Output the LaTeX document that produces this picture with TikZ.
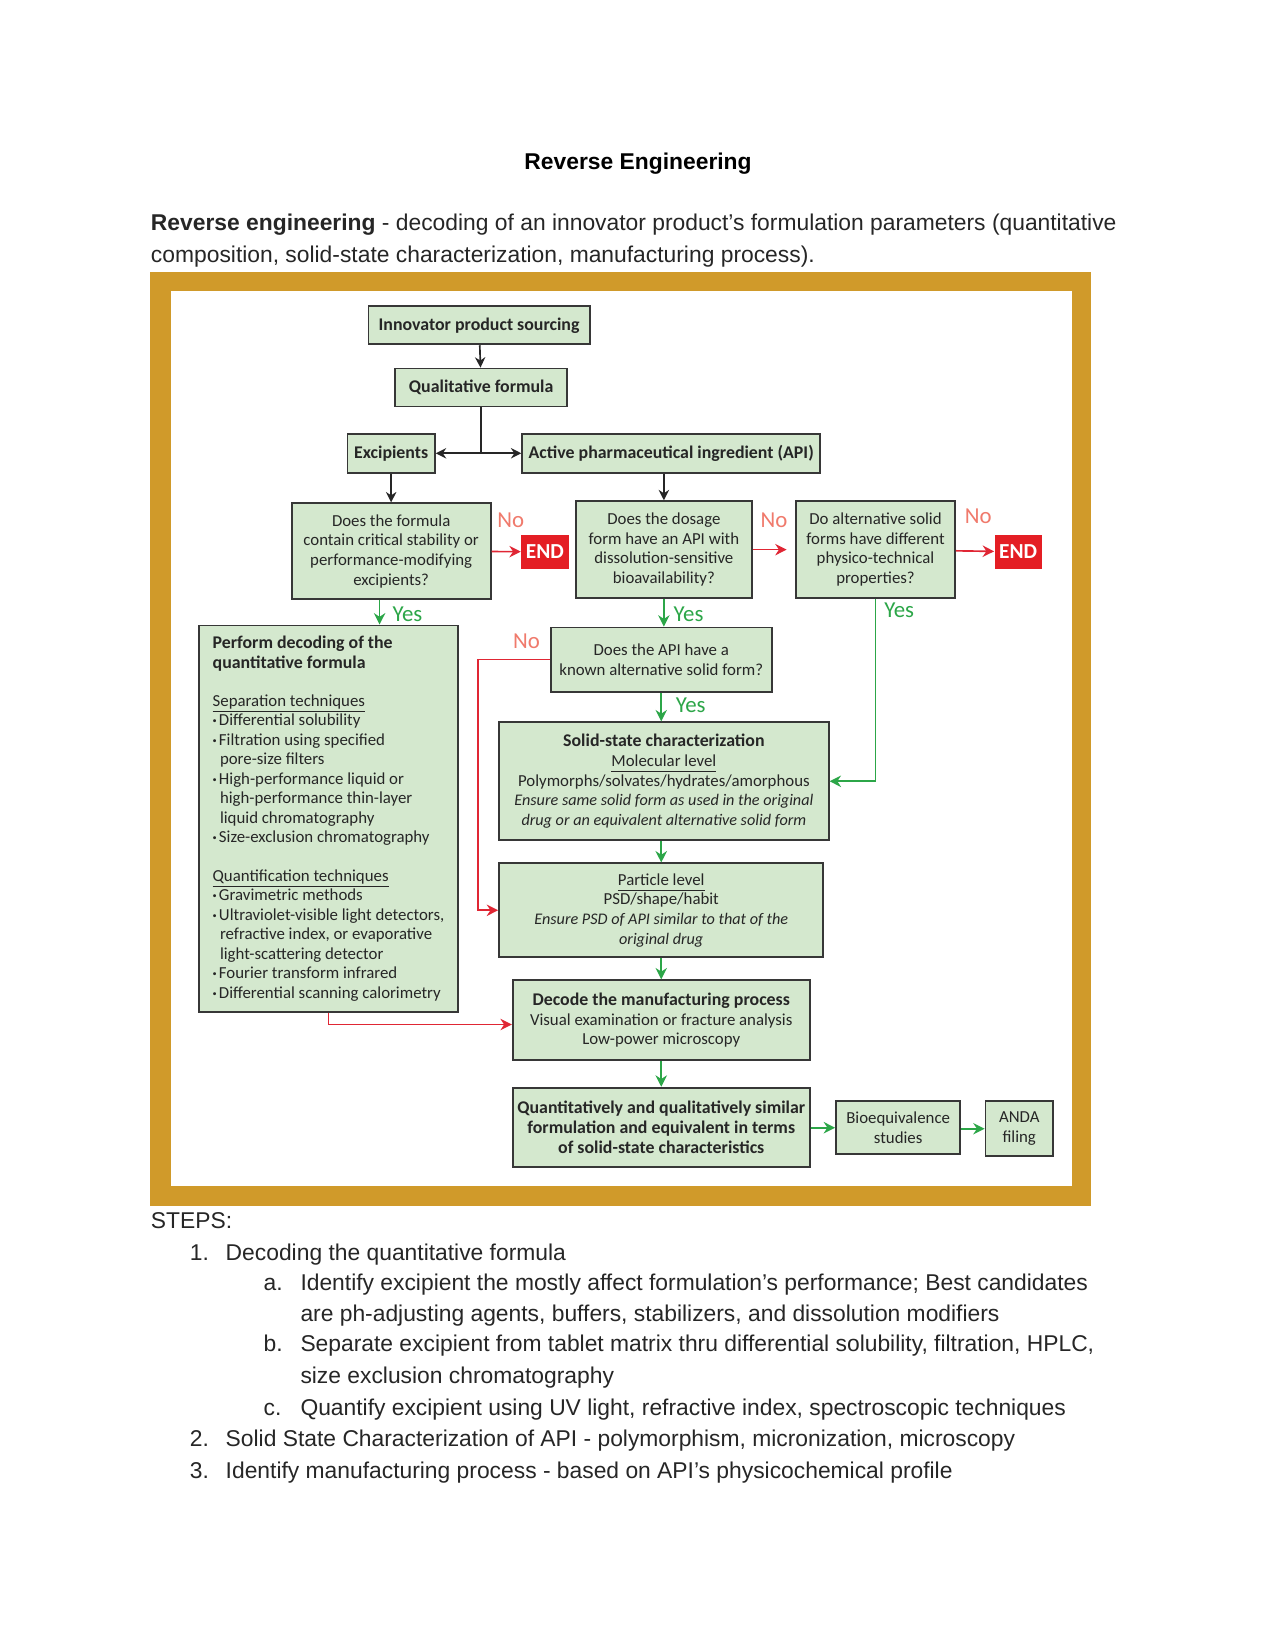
\documentclass[tikz,border=0pt]{standalone}
\usepackage{fontspec}
\usepackage{graphicx}
\setmainfont{Liberation Sans}
\newfontfamily\chartfont{Carlito}
\usetikzlibrary{arrows.meta}

\newlength\pixel
\setlength\pixel{0.5072pt}

\definecolor{framegold}{RGB}{208,154,42}
\definecolor{boxgreen}{RGB}{212,232,206}
\definecolor{boxline}{RGB}{55,55,55}
\definecolor{yesgreen}{RGB}{44,166,72}
\definecolor{nored}{RGB}{224,38,52}
\definecolor{nolabel}{RGB}{240,122,108}
\definecolor{endred}{RGB}{228,30,36}

\newcommand\dotitem{\makebox[6\pixel][l]{\raisebox{0.25ex}{\fontsize{4}{4}\selectfont\textbullet}}}
\newcommand\dotcont{\hspace*{7\pixel}}
\newcommand\headline[1]{{\fontsize{8.6}{9.5}\selectfont\bfseries #1}}
\newcommand\noteline[1]{{\fontsize{7.8}{9.5}\selectfont\itshape #1}}
\newcommand\subhead[1]{\underline{\raisebox{0pt}[\height][1.1pt]{#1}}}

\begin{document}
\begin{tikzpicture}[
    x=\pixel, y=-\pixel,
    pagetext/.style={anchor=base west, inner sep=0pt, text=black!85,
        font=\fontsize{11}{13}\selectfont},
    box/.style={draw=boxline, line width=0.9pt, fill=boxgreen, text=black!85,
        inner sep=0pt, align=center,
        font=\chartfont\fontsize{8.1}{9.5}\selectfont},
    endbox/.style={fill=endred, text=white, inner sep=0pt,
        minimum width=45\pixel, minimum height=32\pixel,
        font=\chartfont\bfseries\fontsize{10.3}{11}\selectfont},
    yes/.style={text=yesgreen, inner sep=0pt, font=\chartfont\fontsize{11}{11}\selectfont},
    no/.style={text=nolabel, inner sep=0pt, font=\chartfont\fontsize{11}{11}\selectfont},
    blackarrow/.style={draw=black!85, line width=0.8pt, -{Stealth[length=5pt, width=5pt]}},
    greenarrow/.style={draw=yesgreen, line width=0.8pt, -{Stealth[length=5.5pt, width=5.5pt]}},
    redarrow/.style={draw=nored, line width=0.8pt, -{Stealth[length=5.5pt, width=5.5pt]}},
    ]
    \useasboundingbox[fill=white] (0,0) rectangle (1211,1568);

    % page text above
    \node[font=\bfseries\fontsize{11}{13}\selectfont, inner sep=0pt] (title) at (606,155) {Reverse Engineering};
    \node[pagetext] (intro1) at (143,219) {\textbf{Reverse engineering} - decoding of an innovator product’s formulation parameters (quantitative};
    \node[pagetext] (intro2) at (143,249) {composition, solid-state characterization, manufacturing process).};

    % gold frame
    \fill[framegold] (142,258) rectangle (1036,1145);
    \fill[white] (162,276) rectangle (1018,1126);

    % boxes
    \node[box, minimum width=210\pixel, minimum height=36\pixel] (innov) at (455,309) {\headline{Innovator product sourcing}};
    \node[box, minimum width=163\pixel, minimum height=36\pixel] (qual) at (457,368) {\headline{Qualitative formula}};
    \node[box, minimum width=83\pixel, minimum height=37\pixel] (excip) at (371.5,430.5) {\headline{Excipients}};
    \node[box, minimum width=283\pixel, minimum height=37\pixel] (api) at (637.5,430.5) {\headline{Active pharmaceutical ingredient (API)}};

    \node[box, minimum width=189\pixel, minimum height=91\pixel] (q1) at (371.5,523.5)
        {Does the formula\\contain critical stability or\\performance-modifying\\excipients?};
    \node[endbox] (end1) at (517.5,524) {END};
    \node[box, minimum width=167\pixel, minimum height=92\pixel] (q2) at (630.5,522)
        {Does the dosage\\form have an API with\\dissolution-sensitive\\bioavailability?};
    \node[box, minimum width=151\pixel, minimum height=92\pixel] (q3) at (831.5,522)
        {Do alternative solid\\forms have different\\physico-technical\\properties?};
    \node[endbox] (end2) at (967,524) {END};

    \node[box, minimum width=246\pixel, minimum height=367\pixel, align=left,
        font=\chartfont\fontsize{8.1}{9.4}\selectfont] (perform) at (312,777.5)
        {\headline{Perform decoding of the}\\
         \headline{quantitative formula}\\[9pt]
         \subhead{Separation techniques}\\
         \dotitem Differential solubility\\
         \dotitem Filtration using specified\\
         \dotcont pore-size filters\\
         \dotitem High-performance liquid or\\
         \dotcont high-performance thin-layer\\
         \dotcont liquid chromatography\\
         \dotitem Size-exclusion chromatography\\[9pt]
         \subhead{Quantification techniques}\\
         \dotitem Gravimetric methods\\
         \dotitem Ultraviolet-visible light detectors,\\
         \dotcont refractive index, or evaporative\\
         \dotcont light-scattering detector\\
         \dotitem Fourier transform infrared\\
         \dotitem Differential scanning calorimetry};

    \node[box, minimum width=210\pixel, minimum height=61\pixel] (q4) at (628,626.5)
        {Does the API have a\\known alternative solid form?};
    \node[box, minimum width=313\pixel, minimum height=112\pixel] (solid) at (630.5,742)
        {\headline{Solid-state characterization}\\
         \subhead{Molecular level}\\
         Polymorphs/solvates/hydrates/amorphous\\
         \noteline{Ensure same solid form as used in the original}\\
         \noteline{drug or an equivalent alternative solid form}};
    \node[box, minimum width=308\pixel, minimum height=89\pixel] (particle) at (628,864.5)
        {\subhead{Particle level}\\
         PSD/shape/habit\\
         \noteline{Ensure PSD of API similar to that of the}\\
         \noteline{original drug}};
    \node[box, minimum width=282\pixel, minimum height=76\pixel] (decode) at (628,969)
        {\headline{Decode the manufacturing process}\\
         Visual examination or fracture analysis\\
         Low-power microscopy};
    \node[box, minimum width=282\pixel, minimum height=75\pixel] (final) at (628,1070.5)
        {\headline{Quantitatively and qualitatively similar}\\
         \headline{formulation and equivalent in terms}\\
         \headline{of solid-state characteristics}};
    \node[box, minimum width=118\pixel, minimum height=50\pixel] (bioeq) at (853,1071)
        {Bioequivalence\\studies};
    \node[box, minimum width=64\pixel, minimum height=52\pixel] (anda) at (968,1072)
        {ANDA\\filing};

    % yes / no labels
    \node[no] (no1) at (485,494) {No};
    \node[no] (no2) at (735,494) {No};
    \node[no] (no3) at (929,490) {No};
    \node[no] (no4) at (500,609) {No};
    \node[yes] (yes1) at (387,583) {Yes};
    \node[yes] (yes2) at (654,583) {Yes};
    \node[yes] (yes3) at (854,580) {Yes};
    \node[yes] (yes4) at (656,670) {Yes};

    % connectors
    \coordinate (split) at (qual.south |- excip.east);
    \draw[black!85, line width=0.8pt] (qual.south) -- (split);
    \draw[blackarrow] (innov) -- (qual);
    \draw[blackarrow] (split) -- (excip.east);
    \draw[blackarrow] (split) -- (api.west);
    \draw[blackarrow] (excip) -- (q1);
    \draw[blackarrow] (q2.north |- api.south) -- (q2.north);

    \draw[redarrow] (q1) -- (end1);
    \draw[redarrow] (q2.east) -- ([xshift=-8\pixel]q3.west);
    \draw[redarrow] (q3) -- (end2);

    \draw[greenarrow] ([xshift=-11\pixel]q1.south) -- ([xshift=-11\pixel]q1.south |- perform.north);
    \draw[greenarrow] (q2.south) -- (q2.south |- q4.north);
    \draw[greenarrow] (q3.south) |- (solid.east);
    \draw[greenarrow] (q4.south) -- (q4.south |- solid.north);
    \draw[redarrow] (q4.west) -- ++(-68,0) |- (particle.west);
    \draw[greenarrow] (particle.north |- solid.south) -- (particle.north);
    \draw[greenarrow] (particle) -- (decode);
    \draw[greenarrow] (decode) -- (final);
    \draw[redarrow] (perform.south) |- ([yshift=-4\pixel]decode.west);
    \draw[greenarrow] (final.east |- bioeq.west) -- (bioeq.west);
    \draw[greenarrow] (bioeq.east |- anda.west) -- (anda.west);

    % page text below
    \node[pagetext] (steps) at (143,1167) {STEPS:};
    \node[pagetext] (n1) at (180,1197) {1.};
    \node[pagetext] (s1) at (214,1197) {Decoding the quantitative formula};
    \node[pagetext] (na) at (250,1226) {a.};
    \node[pagetext] (s1a) at (285,1226) {Identify excipient the mostly affect formulation’s performance; Best candidates};
    \node[pagetext] (s1a2) at (285,1255) {are ph-adjusting agents, buffers, stabilizers, and dissolution modifiers};
    \node[pagetext] (nb) at (250,1284) {b.};
    \node[pagetext] (s1b) at (285,1284) {Separate excipient from tablet matrix thru differential solubility, filtration, HPLC,};
    \node[pagetext] (s1b2) at (285,1314) {size exclusion chromatography};
    \node[pagetext] (nc) at (250,1344) {c.};
    \node[pagetext] (s1c) at (285,1344) {Quantify excipient using UV light, refractive index, spectroscopic techniques};
    \node[pagetext] (n2) at (180,1374) {2.};
    \node[pagetext] (s2) at (214,1374) {Solid State Characterization of API - polymorphism, micronization, microscopy};
    \node[pagetext] (n3) at (180,1404) {3.};
    \node[pagetext] (s3) at (214,1404) {Identify manufacturing process - based on API’s physicochemical profile};
\end{tikzpicture}
\end{document}
